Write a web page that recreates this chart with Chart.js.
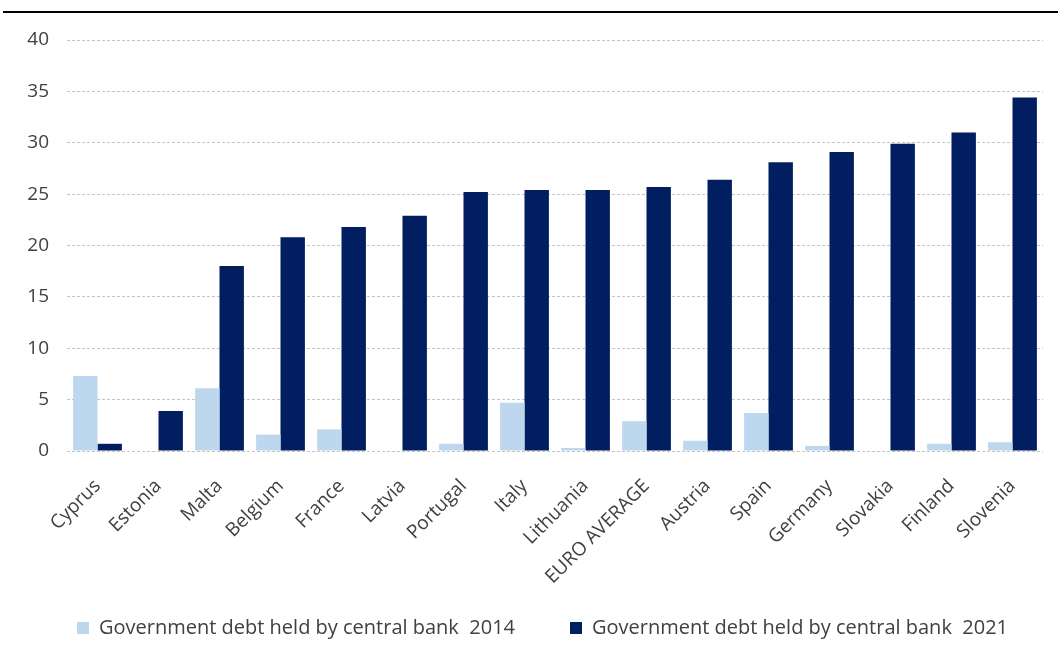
<!DOCTYPE html>
<html>
<head>
<meta charset="utf-8">
<script src="https://cdn.jsdelivr.net/npm/chart.js@4/dist/chart.umd.min.js"></script>
<style>
  html, body { margin: 0; padding: 0; background: #ffffff; overflow: hidden; }
  #wrap { position: relative; width: 1061px; height: 657px; overflow: hidden; }
  #rule { position: absolute; left: 3px; top: 11px; width: 1055px; height: 0; border-top: 2px solid #000; }
  canvas { position: absolute; left: 0; top: 0; }
</style>
</head>
<body>
<div id="wrap">
  <canvas id="c" width="1061" height="681"></canvas>
  <div id="rule"></div>
</div>
<script>
const categories = ["Cyprus", "Estonia", "Malta", "Belgium", "France", "Latvia", "Portugal", "Italy",
  "Lithuania", "EURO AVERAGE", "Austria", "Spain", "Germany", "Slovakia", "Finland", "Slovenia"];
const debt2014 = [7.3, 0, 6.1, 1.6, 2.1, 0, 0.7, 4.7, 0.3, 2.9, 1.0, 3.7, 0.5, 0, 0.7, 0.85];
const debt2021 = [0.7, 3.9, 18.0, 20.8, 21.8, 22.9, 25.2, 25.4, 25.4, 25.7, 26.4, 28.1, 29.1, 29.9, 31.0, 34.4];
const seriesLabels = ["Government debt held by central bank  2014", "Government debt held by central bank  2021"];
const yTicks = { min: 0, max: 40, step: 5 };

const FONT = "'Open Sans', sans-serif";
const TEXT = "#404040";

const legendShift = {
  id: "legendShift",
  afterLayout(chart) {
    const lg = chart.legend;
    if (!lg) return;
    const dx = 21, dy = -33;
    lg.left += dx; lg.right += dx;
    lg.top += dy; lg.bottom += dy;
  }
};

new Chart(document.getElementById("c"), {
  type: "bar",
  data: {
    labels: categories,
    datasets: [
      { label: seriesLabels[0], data: debt2014, backgroundColor: "#BDD7EE", borderWidth: 0,
        categoryPercentage: 0.8, barPercentage: 1.0 },
      { label: seriesLabels[1], data: debt2021, backgroundColor: "#001E60", borderWidth: 0,
        categoryPercentage: 0.8, barPercentage: 1.0 }
    ]
  },
  plugins: [legendShift],
  options: {
    responsive: false,
    animation: false,
    layout: { padding: { left: 0, right: 18, top: 40, bottom: 0 } },
    plugins: {
      tooltip: { enabled: false },
      legend: {
        position: "bottom",
        labels: {
          color: TEXT,
          font: { family: FONT, size: 20 },
          boxWidth: 12, boxHeight: 12,
          padding: 55
        }
      }
    },
    scales: {
      x: {
        grid: { display: false },
        border: { display: false },
        ticks: {
          color: TEXT, font: { family: FONT, size: 19 },
          minRotation: 45, maxRotation: 45, autoSkip: false, padding: 16
        },
        afterFit: (s) => { s.height = 145; }
      },
      y: {
        min: yTicks.min, max: yTicks.max,
        border: { display: false, dash: [3, 2] },
        grid: { color: "#c4c4c4", lineWidth: 1, drawTicks: false },
        ticks: { stepSize: yTicks.step, color: TEXT, font: { family: FONT, size: 19 }, padding: 18 },
        afterFit: (s) => { s.width = 67; }
      }
    }
  }
});
</script>
</body>
</html>
